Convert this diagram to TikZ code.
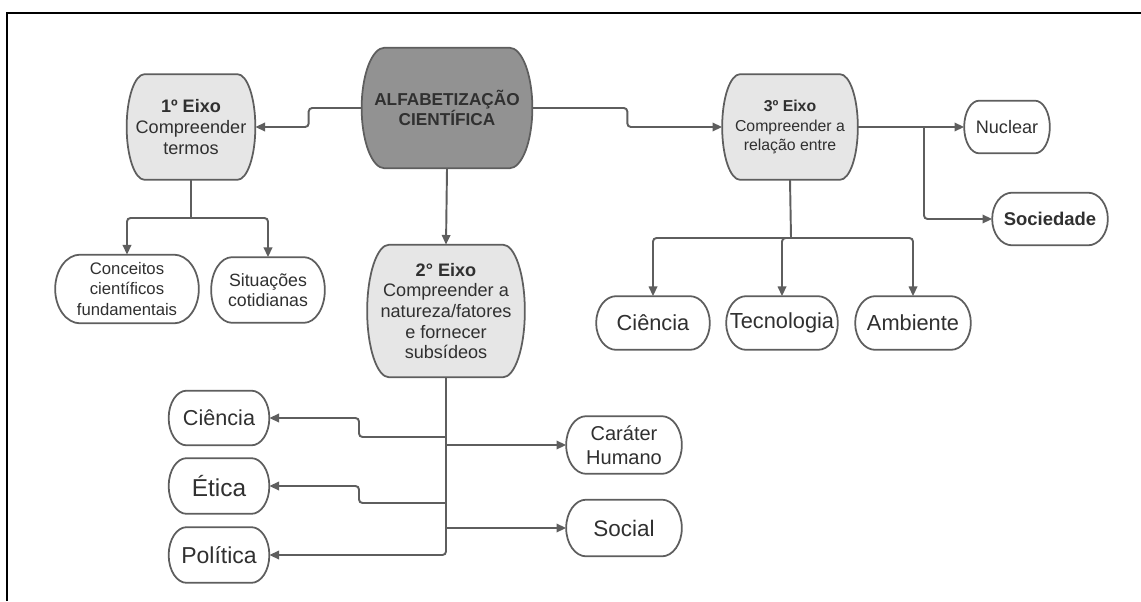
\documentclass[tikz,border=0pt]{standalone}
\usepackage{fontspec}
\setmainfont{Liberation Sans}
\usetikzlibrary{arrows.meta,calc,backgrounds}
\definecolor{linegray}{HTML}{5E5E5E}
\definecolor{boxgray}{HTML}{E6E6E6}
\definecolor{maingray}{HTML}{929292}
\definecolor{txtgray}{HTML}{303030}
\tikzset{
  eixo/.style={align=center, inner sep=0pt, text=txtgray, font=\fontsize{10.3}{11.8}\selectfont},
  folha/.style={align=center, inner sep=0pt, text=txtgray, font=\fontsize{12.4}{13.6}\selectfont},
  barril/.style={draw=linegray, line width=1pt},
  seta/.style={draw=linegray, line width=1.1pt, rounded corners=2pt,
    -{Triangle[length=5.5pt,width=4.8pt]}},
  liga/.style={draw=linegray, line width=1.1pt, rounded corners=2pt},
}
% contorno com lados curvos (meia elipse) atras do no #1
\newcommand{\barril}[3]{%
  \path[barril, #3] let \p1=(#1.north), \p2=(#1.south), \n1={0.5*(\y1-\y2)} in
    ([xshift=#2]#1.north west) -- ([xshift=-#2]#1.north east)
    arc[start angle=90, end angle=-90, x radius=#2, y radius=\n1]
    -- ([xshift=#2]#1.south west)
    arc[start angle=270, end angle=90, x radius=#2, y radius=\n1] -- cycle;}
\begin{document}
\begin{tikzpicture}[x=0.02cm, y=-0.02cm]
\useasboundingbox (0,0) rectangle (1141,601);
\draw[line width=1.6pt] (7,601) -- (7,13) -- (1141,13);

% centro
\node[eixo, minimum width=3.4cm, minimum height=2.4cm,
  font=\bfseries\fontsize{9.8}{11.3}\selectfont] (af) at (447,108) {ALFABETIZAÇÃO\\CIENTÍFICA};

% eixos
\node[eixo, minimum width=2.56cm, minimum height=2.1cm] (e1) at (191,127)
  {\textbf{1º Eixo}\\Compreender\\termos};
\node[eixo, minimum width=3.14cm, minimum height=2.64cm] (e2) at (446,311)
  {\textbf{2° Eixo}\\Compreender a\\natureza/fatores\\e fornecer\\subsídeos};
\node[eixo, minimum width=2.7cm, minimum height=2.1cm, font=\fontsize{9}{10.9}\selectfont]
  (e3) at (790,127) {\textbf{3º Eixo}\\Compreender a\\relação entre};

% 1o eixo
\node[folha, minimum width=2.86cm, minimum height=1.36cm, font=\fontsize{9.5}{11.9}\selectfont]
  (conc) at (127,289) {Conceitos\\científicos\\fundamentais};
\node[folha, minimum width=2.26cm, minimum height=1.3cm, font=\fontsize{10.1}{11.6}\selectfont]
  (sit) at (268,290) {Situações\\cotidianas};

% 3o eixo
\node[folha, minimum width=2.26cm, minimum height=1.06cm] (cie3) at (653,323) {Ciência};
\node[folha, minimum width=2.22cm, minimum height=1.06cm] (tec) at (782,323) {Tecnologia};
\node[folha, minimum width=2.3cm, minimum height=1.06cm] (amb) at (913,323) {Ambiente};
\node[folha, minimum width=1.7cm, minimum height=1.04cm, font=\fontsize{10.3}{12}\selectfont]
  (nuc) at (1007,127) {Nuclear};
\node[folha, minimum width=2.3cm, minimum height=1.04cm, font=\bfseries\fontsize{10.5}{12}\selectfont]
  (soc) at (1050,219) {Sociedade};

% 2o eixo
\node[folha, minimum width=2cm, minimum height=1.08cm, font=\fontsize{12.3}{13.6}\selectfont]
  (cie2) at (219,418) {Ciência};
\node[folha, minimum width=2cm, minimum height=1.1cm, font=\fontsize{13.9}{15}\selectfont]
  (eti) at (219,486) {Ética};
\node[folha, minimum width=2cm, minimum height=1.1cm, font=\fontsize{13.1}{15}\selectfont]
  (pol) at (219,555) {Política};
\node[folha, minimum width=2.3cm, minimum height=1.14cm, font=\fontsize{11.4}{13.5}\selectfont]
  (car) at (624,445) {Caráter\\Humano};
\node[folha, minimum width=2.3cm, minimum height=1.12cm, font=\fontsize{12.8}{14}\selectfont]
  (socl) at (624,528) {Social};

% contornos
\begin{scope}[on background layer]
\barril{af}{0.46cm}{fill=maingray}
\foreach \nd/\rx in {e1/0.36cm, e2/0.44cm, e3/0.36cm}
  {\barril{\nd}{\rx}{fill=boxgray}}
\foreach \nd/\rx in {conc/0.5cm, sit/0.42cm, cie3/0.4cm, tec/0.4cm, amb/0.4cm, nuc/0.3cm,
    soc/0.4cm, cie2/0.36cm, eti/0.36cm, pol/0.36cm, car/0.4cm, socl/0.4cm}
  {\barril{\nd}{\rx}{fill=white}}
\end{scope}

% ligacoes
\coordinate (j1) at (191,218);
\coordinate (j3) at (791,238);
\coordinate (j4) at (924,127);
\coordinate (t1) at (446,437);
\coordinate (t2) at (446,445);
\coordinate (t3) at (446,503);
\coordinate (t4) at (446,528);

\draw[seta] (af.west) -- ++(-53,0) |- (e1.east);
\draw[seta] (af.east) -- ++(95,0) |- (e3.west);
\draw[seta] (af.south) -- (e2.north);

\draw[liga] (e1.south) -- (j1);
\draw[seta] (j1) -| (conc.north);
\draw[seta] (j1) -| (sit.north);

\draw[liga] (e3.south) -- (j3);
\draw[seta] (j3) -| (cie3.north);
\draw[seta] (j3) -| (tec.north);
\draw[seta] (j3) -| (amb.north);
\draw[seta] (e3.east) -- (nuc.west);
\draw[seta] (j4) |- (soc.west);

\draw[seta] (e2.south) |- (pol.east);
\draw[seta] (t1) -- ++(-87,0) |- (cie2.east);
\draw[seta] (t3) -- ++(-87,0) |- (eti.east);
\draw[seta] (t2) -- (car.west);
\draw[seta] (t4) -- (socl.west);
\end{tikzpicture}
\end{document}
